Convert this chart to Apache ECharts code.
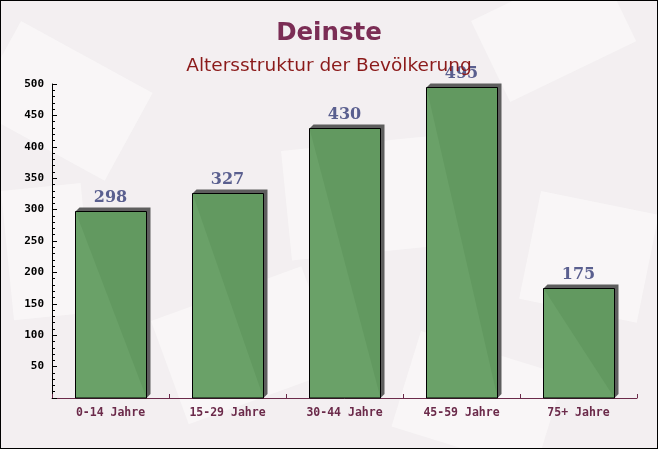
<!DOCTYPE html>
<html>
<head>
<meta charset="utf-8">
<script src="https://cdn.jsdelivr.net/npm/echarts@6/dist/echarts.min.js"></script>
<style>
html,body{margin:0;padding:0;}
#c{width:658px;height:449px;box-sizing:border-box;border:1px solid #000;}
</style>
</head>
<body>
<div id="c"></div>
<script>
const categories = ['0-14 Jahre', '15-29 Jahre', '30-44 Jahre', '45-59 Jahre', '75+ Jahre'];
const values = [298, 327, 430, 495, 175];
const yTicks = [50, 100, 150, 200, 250, 300, 350, 400, 450, 500];

const chart = echarts.init(document.getElementById('c'));
const deco = [
  {x: 20, y: 20, w: 150, h: 100, r: -0.5},
  {x: 280, y: 150, w: 170, h: 110, r: 0.1},
  {x: 470, y: 20, w: 140, h: 90, r: 0.45},
  {x: 540, y: 190, w: 120, h: 110, r: -0.2},
  {x: 150, y: 320, w: 160, h: 110, r: 0.35},
  {x: 420, y: 330, w: 150, h: 100, r: -0.3},
  {x: 0, y: 190, w: 80, h: 130, r: 0.1}
].map(d => ({
  type: 'rect', x: d.x, y: d.y, rotation: d.r, silent: true, z: -10,
  shape: {x: 0, y: 0, width: d.w, height: d.h},
  style: {fill: '#fbf9fa', opacity: 0.7}
}));

const D = 4;
function renderBar(params, api) {
  const idx = api.value(0);
  const v = api.value(1);
  const top = api.coord([idx, v]);
  const base = api.coord([idx, 0]);
  const bw = api.size([1, 0])[0] * 0.61;
  const x0 = Math.round(top[0] - bw / 2) + 0.5;
  const x1 = x0 + Math.round(bw);
  const yT = Math.round(top[1]) + 0.5;
  const yB = base[1];
  return {
    type: 'group',
    children: [{
      type: 'polygon',
      shape: {points: [[x0, yT], [x0 + D, yT - D], [x1 + D, yT - D], [x1 + D, yB - D], [x1, yB]]},
      style: {fill: '#5e5e5e'}
    }, {
      type: 'rect',
      shape: {x: x0, y: yT, width: x1 - x0, height: yB - yT},
      style: {fill: 'rgba(98,156,96,0.95)', stroke: '#000', lineWidth: 1}
    }]
  };
}

chart.setOption({
  backgroundColor: '#f3eff1',
  graphic: deco,
  title: [{
    text: 'Deinste', left: 'center', top: 15,
    textStyle: {fontFamily: 'DejaVu Sans', fontWeight: 'bold', fontSize: 24.5, color: '#7b2d55'}
  }, {
    text: 'Altersstruktur der Bevölkerung', left: 'center', top: 51,
    textStyle: {fontFamily: 'DejaVu Sans', fontWeight: 'normal', fontSize: 18.5, color: '#8b1a1a'}
  }],
  grid: {left: 51, right: 20, top: 83, bottom: 50},
  xAxis: {
    type: 'category', data: categories,
    axisLine: {lineStyle: {color: '#6b2a4a', width: 1}},
    axisTick: {show: true, inside: true, length: 4, lineStyle: {color: '#6b2a4a'}},
    axisLabel: {fontFamily: 'DejaVu Sans Mono', fontWeight: 'bold', fontSize: 11.5, color: '#6b2a4a', margin: 9}
  },
  yAxis: {
    type: 'value', min: 0, max: 500, interval: 50,
    axisLine: {show: true, lineStyle: {color: '#000', width: 1}},
    axisTick: {show: true, inside: true, length: 5, lineStyle: {color: '#000'}},
    minorTick: {show: true, splitNumber: 5, length: 3, lineStyle: {color: '#000'}},
    splitLine: {show: false},
    axisLabel: {
      fontFamily: 'DejaVu Sans Mono', fontWeight: 'bold', fontSize: 11, color: '#000', margin: 8,
      formatter: v => yTicks.includes(v) ? String(v) : ''
    }
  },
  series: [{
    type: 'custom',
    data: values.map((v, i) => [i, v]),
    encode: {x: 0, y: 1},
    renderItem: renderBar,
    z: 2
  }, {
    type: 'bar',
    data: values,
    barWidth: '61%',
    itemStyle: {color: 'rgba(0,0,0,0)'},
    silent: true,
    z: 3,
    label: {
      show: true, position: 'top', distance: 5,
      fontFamily: 'DejaVu Serif', fontWeight: 'bold', fontSize: 16, color: '#5a5f8f'
    }
  }]
});
</script>
</body>
</html>
